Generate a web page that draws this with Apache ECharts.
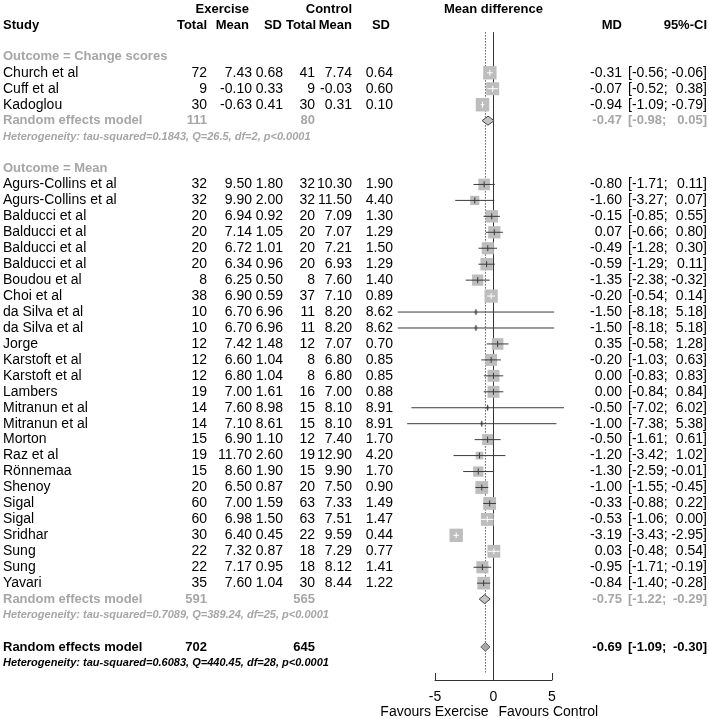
<!DOCTYPE html>
<html><head><meta charset="utf-8">
<script src="https://cdn.jsdelivr.net/npm/echarts@6/dist/echarts.min.js"></script>
<style>html,body{margin:0;padding:0;background:#fff}#c{width:709px;height:719px}</style>
</head><body><div id="c"></div>
<script>
// ---------------- data ----------------
const groupLabels = ['Outcome = Change scores', 'Outcome = Mean'];
const groupSizes = [3, 26];
const studyNames = ['Church et al','Cuff et al','Kadoglou',
  'Agurs-Collins et al','Agurs-Collins et al','Balducci et al','Balducci et al','Balducci et al','Balducci et al',
  'Boudou et al','Choi et al','da Silva et al','da Silva et al','Jorge','Karstoft et al','Karstoft et al','Lambers',
  'Mitranun et al','Mitranun et al','Morton','Raz et al','Rönnemaa','Shenoy','Sigal','Sigal','Sridhar','Sung','Sung','Yavari'];
const expTotal = [72,9,30,32,32,20,20,20,20,8,38,10,10,12,12,12,19,14,14,15,19,15,20,60,60,30,22,22,35];
const expMean = [7.43,-0.10,-0.63,9.50,9.90,6.94,7.14,6.72,6.34,6.25,6.90,6.70,6.70,7.42,6.60,6.80,7.00,7.60,7.10,6.90,11.70,8.60,6.50,7.00,6.98,6.40,7.32,7.17,7.60];
const expSD = [0.68,0.33,0.41,1.80,2.00,0.92,1.05,1.01,0.96,0.50,0.59,6.96,6.96,1.48,1.04,1.04,1.61,8.98,8.61,1.10,2.60,1.90,0.87,1.59,1.50,0.45,0.87,0.95,1.04];
const ctlTotal = [41,9,30,32,32,20,20,20,20,8,37,11,11,12,8,8,16,15,15,12,19,15,20,63,63,22,18,18,30];
const ctlMean = [7.74,-0.03,0.31,10.30,11.50,7.09,7.07,7.21,6.93,7.60,7.10,8.20,8.20,7.07,6.80,6.80,7.00,8.10,8.10,7.40,12.90,9.90,7.50,7.33,7.51,9.59,7.29,8.12,8.44];
const ctlSD = [0.64,0.60,0.10,1.90,4.40,1.30,1.29,1.50,1.29,1.40,0.89,8.62,8.62,0.70,0.85,0.85,0.88,8.91,8.91,1.70,4.20,1.70,0.90,1.49,1.47,0.44,0.77,1.41,1.22];
const md = [-0.31,-0.07,-0.94,-0.80,-1.60,-0.15,0.07,-0.49,-0.59,-1.35,-0.20,-1.50,-1.50,0.35,-0.20,0.00,0.00,-0.50,-1.00,-0.50,-1.20,-1.30,-1.00,-0.33,-0.53,-3.19,0.03,-0.95,-0.84];
const ciLow = [-0.56,-0.52,-1.09,-1.71,-3.27,-0.85,-0.66,-1.28,-1.29,-2.38,-0.54,-8.18,-8.18,-0.58,-1.03,-0.83,-0.84,-7.02,-7.38,-1.61,-3.42,-2.59,-1.55,-0.88,-1.06,-3.43,-0.48,-1.71,-1.40];
const ciHigh = [-0.06,0.38,-0.79,0.11,0.07,0.55,0.80,0.30,0.11,-0.32,0.14,5.18,5.18,1.28,0.63,0.83,0.84,6.02,5.38,0.61,1.02,-0.01,-0.45,0.22,0.00,-2.95,0.54,-0.19,-0.28];
// estimated weights (%)
const weights = [4.9,4.6,5.0,3.7,2.3,4.2,4.1,4.0,4.2,3.5,4.8,0.3,0.3,3.7,3.9,3.9,3.9,0.3,0.3,3.3,1.6,2.9,4.5,4.5,4.5,4.9,4.5,4.0,4.4];
const groupExpTotal = [111, 591];
const groupCtlTotal = [80, 565];
const groupMD = [-0.47, -0.75];
const groupLow = [-0.98, -1.22];
const groupHigh = [0.05, -0.29];
const groupHet = ['Heterogeneity: tau-squared=0.1843, Q=26.5, df=2, p<0.0001',
                  'Heterogeneity: tau-squared=0.7089, Q=389.24, df=25, p<0.0001'];
const overallExpTotal = 702, overallCtlTotal = 645;
const overallMD = -0.69, overallLow = -1.09, overallHigh = -0.30;
const overallHet = 'Heterogeneity: tau-squared=0.6083, Q=440.45, df=28, p<0.0001';
const xTicks = [-5, 0, 5];

// ---------------- layout ----------------
const FONT = '"Liberation Sans", Arial, Helvetica, sans-serif';
const GRAY = '#a6a6a6';
const Y_MAX = 42.07;
const col = { study: 3, eTot: 207, eMean: 252, eSD: 283, cTot: 315, cMean: 352, cSD: 393, md: 622, ciL: 628, ciR: 707 };
const BOLD = 13;

// rows
const rowOf = []; const gLabelRow = [], gRERow = [], gHetRow = [];
let r = 3;
groupSizes.forEach((n) => {
  gLabelRow.push(r); r++;
  for (let k = 0; k < n; k++) { rowOf.push(r); r++; }
  gRERow.push(r); r++;
  gHetRow.push(r); r += 2;
});
const overallRow = r, overallHetRow = r + 1;

const f2 = v => v.toFixed(2);
const texts = [];
function T(row, x, align, text, opt) { texts.push(Object.assign({ row, x, align, text, color: '#000', bold: false, italic: false, size: 14 }, opt || {})); }
const hb = { bold: true, size: BOLD };
// headers
T(0, col.eMean - 3, 'right', 'Exercise', hb);
T(0, col.cMean, 'right', 'Control', hb);
T(0, null, 'center', 'Mean difference', { bold: true, size: BOLD, rel: 0 });
T(1, col.study, 'left', 'Study', hb);
T(1, col.eTot, 'right', 'Total', hb);
T(1, col.eMean - 3, 'right', 'Mean', hb);
T(1, col.eSD - 1, 'right', 'SD', hb);
T(1, col.cTot + 1, 'right', 'Total', hb);
T(1, col.cMean, 'right', 'Mean', hb);
T(1, col.cSD - 3, 'right', 'SD', hb);
T(1, col.md, 'right', 'MD', hb);
T(1, col.ciR, 'right', '95%-CI', hb);
let si = 0;
groupSizes.forEach((n, g) => {
  T(gLabelRow[g], col.study, 'left', groupLabels[g], { bold: true, size: BOLD, color: GRAY });
  for (let k = 0; k < n; k++, si++) {
    const rr = rowOf[si];
    T(rr, col.study, 'left', studyNames[si]);
    T(rr, col.eTot, 'right', String(expTotal[si]));
    T(rr, col.eMean, 'right', f2(expMean[si]));
    T(rr, col.eSD, 'right', f2(expSD[si]));
    T(rr, col.cTot, 'right', String(ctlTotal[si]));
    T(rr, col.cMean, 'right', f2(ctlMean[si]));
    T(rr, col.cSD, 'right', f2(ctlSD[si]));
    T(rr, col.md, 'right', f2(md[si]));
    T(rr, col.ciL, 'left', '[' + f2(ciLow[si]) + ';');
    T(rr, col.ciR, 'right', f2(ciHigh[si]) + ']');
  }
  const o = { bold: true, size: BOLD, color: GRAY };
  T(gRERow[g], col.study, 'left', 'Random effects model', o);
  T(gRERow[g], col.eTot, 'right', String(groupExpTotal[g]), o);
  T(gRERow[g], col.cTot, 'right', String(groupCtlTotal[g]), o);
  T(gRERow[g], col.md, 'right', f2(groupMD[g]), o);
  T(gRERow[g], col.ciL, 'left', '[' + f2(groupLow[g]) + ';', o);
  T(gRERow[g], col.ciR, 'right', f2(groupHigh[g]) + ']', o);
  T(gHetRow[g], col.study, 'left', groupHet[g], { bold: true, italic: true, size: 11, color: GRAY });
});
T(overallRow, col.study, 'left', 'Random effects model', hb);
T(overallRow, col.eTot, 'right', String(overallExpTotal), hb);
T(overallRow, col.cTot, 'right', String(overallCtlTotal), hb);
T(overallRow, col.md, 'right', f2(overallMD), hb);
T(overallRow, col.ciL, 'left', '[' + f2(overallLow) + ';', hb);
T(overallRow, col.ciR, 'right', f2(overallHigh) + ']', hb);
T(overallHetRow, col.study, 'left', overallHet, { bold: true, italic: true, size: 11 });
T(null, null, 'right', 'Favours Exercise', { rel: -5, py: 712 });
T(null, null, 'left', 'Favours Control', { rel: 5, py: 712 });

// ---------------- chart ----------------
const chart = echarts.init(document.getElementById('c'), null, { renderer: 'canvas' });

const studyData = md.map((m, i) => [m, rowOf[i], ciLow[i], ciHigh[i], weights[i]]);
const diamondData = groupMD.map((m, g) => [m, gRERow[g], groupLow[g], groupHigh[g], 0])
  .concat([[overallMD, overallRow, overallLow, overallHigh, 1]]);
const W_MAX = Math.max.apply(null, weights);

const option = {
  animation: false,
  backgroundColor: '#fff',
  grid: { left: 435, width: 117, top: 9, height: 671 },
  xAxis: {
    type: 'value', min: -5, max: 5, interval: 5, position: 'bottom',
    axisLine: { show: true, onZero: false, lineStyle: { color: '#333', width: 1 } },
    axisTick: { show: true, inside: true, length: 7, lineStyle: { color: '#333' } },
    axisLabel: { fontSize: 14, color: '#000', fontFamily: FONT, margin: 10, formatter: v => xTicks.includes(v) ? String(v) : '' },
    splitLine: { show: false }
  },
  yAxis: { type: 'value', min: 0, max: Y_MAX, inverse: true, show: false },
  series: [
    { // reference lines
      type: 'custom', silent: true, z: 1,
      data: [[0, 1.45, Y_MAX, 0], [overallMD, 1.45, 41.6, 1]],
      renderItem: (params, api) => {
        const a = api.coord([api.value(0), api.value(1)]);
        const b = api.coord([api.value(0), api.value(2)]);
        const dotted = api.value(3) === 1;
        return { type: 'line', shape: { x1: a[0], y1: a[1], x2: b[0], y2: b[1] },
          style: { stroke: dotted ? '#555' : '#333', lineWidth: 1, lineDash: dotted ? [1.5, 1.5] : null } };
      }
    },
    { // study boxes + CIs
      type: 'custom', silent: true, z: 3, clip: false,
      data: studyData,
      renderItem: (params, api) => {
        const c = api.coord([api.value(0), api.value(1)]);
        const pl = api.coord([api.value(2), api.value(1)]);
        const ph = api.coord([api.value(3), api.value(1)]);
        const size = Math.max(3, 13.5 * Math.sqrt(api.value(4) / W_MAX));
        const inside = (ph[0] - pl[0]) <= size;
        const lc = inside ? '#ffffff' : '#3a3a3a';
        return { type: 'group', children: [
          { type: 'rect', shape: { x: c[0] - size / 2, y: c[1] - size / 2, width: size, height: size }, style: { fill: '#bdbdbd' } },
          { type: 'line', shape: { x1: pl[0], y1: c[1], x2: ph[0], y2: c[1] }, style: { stroke: lc, lineWidth: 1 } },
          { type: 'line', shape: { x1: c[0], y1: c[1] - 3, x2: c[0], y2: c[1] + 3 }, style: { stroke: lc, lineWidth: 1 } }
        ] };
      }
    },
    { // diamonds
      type: 'custom', silent: true, z: 4, clip: false,
      data: diamondData,
      renderItem: (params, api) => {
        const row = api.value(1);
        const c = api.coord([api.value(0), row]);
        const pl = api.coord([api.value(2), row]);
        const ph = api.coord([api.value(3), row]);
        const h = 4.5;
        const overall = api.value(4) === 1;
        return { type: 'polygon', shape: { points: [[pl[0], c[1]], [c[0], c[1] - h], [ph[0], c[1]], [c[0], c[1] + h]] },
          style: { fill: overall ? '#a8a8a8' : '#c4c4c4', stroke: overall ? '#666' : '#444', lineWidth: 1 } };
      }
    },
    { // table text
      type: 'custom', silent: true, z: 5, clip: false,
      data: texts.map((t, i) => [0, t.row == null ? 0 : t.row, i]),
      renderItem: (params, api) => {
        const t = texts[params.dataIndex];
        const y = t.py != null ? t.py : api.coord([0, t.row])[1];
        const x = t.rel != null ? api.coord([0, 0])[0] + t.rel : t.x;
        return { type: 'text', style: {
          text: t.text, x: x, y: y, align: t.align, verticalAlign: 'middle',
          textAlign: t.align, textVerticalAlign: 'middle', fill: t.color,
          font: (t.italic ? 'italic ' : '') + (t.bold ? 'bold ' : '') + t.size + 'px ' + FONT } };
      }
    }
  ]
};
chart.setOption(option);
</script>
</body></html>
